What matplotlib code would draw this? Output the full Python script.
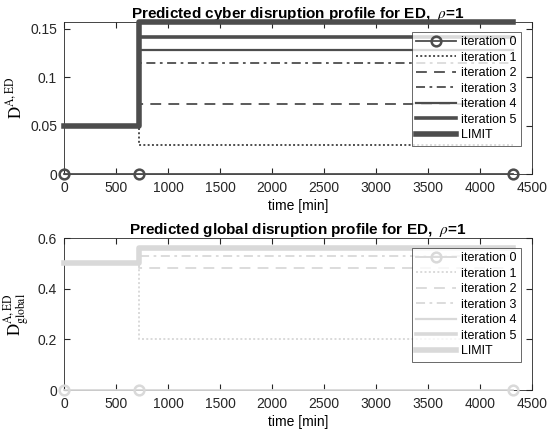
import matplotlib.pyplot as plt

plt.rcParams['font.family'] = ['Liberation Sans', 'DejaVu Sans']
plt.rcParams['mathtext.fontset'] = 'stix'

t = [0, 720, 4320]
labels = ['iteration 0', 'iteration 1', 'iteration 2', 'iteration 3',
          'iteration 4', 'iteration 5', 'LIMIT']

cyber_start = 0.05
cyber_iters = [0.0, 0.030, 0.072, 0.115, 0.128, 0.142]
cyber_limit = 0.157

glob_start = 0.5
glob_iters = [0.0, 0.20, 0.48, 0.53, 0.555, 0.56]
glob_limit = 0.56

styles = [('-', 1.3), ((0, (1, 1.2)), 1.4), ((0, (6, 4)), 1.3), ((0, (5, 2.5, 1.5, 2.5)), 1.3),
          ('-', 1.6), ('-', 2.6), ('-', 4.0)]

fig = plt.figure(figsize=(5.52, 4.32), dpi=100)
ax1 = fig.add_axes([64/552, 1-174/432, 468/552, 152/432])
ax2 = fig.add_axes([64/552, 1-390/432, 468/552, 152/432])


def draw(ax, start, iters, limit, col, title, ylab, ylim, yticks, yticklabels):
    for i, v in enumerate(iters):
        ls, lw = styles[i]
        if i == 0:
            ax.plot(t, [0, 0, 0], color=col, ls=ls, lw=lw, marker='o', mfc='none',
                    ms=7, mew=1.8, label=labels[i], clip_on=False, zorder=5)
        else:
            ax.step(t, [start, v, v], where='post', color=col, ls=ls, lw=lw,
                    label=labels[i])
    ls, lw = styles[6]
    ax.step(t, [start, limit, limit], where='post', color=col, ls=ls, lw=lw,
            label=labels[6], clip_on=False, zorder=4)
    ax.set_xlim(0, 4500)
    ax.set_ylim(*ylim)
    ax.set_xticks(range(0, 4501, 500))
    ax.set_yticks(yticks)
    ax.set_yticklabels(yticklabels)
    ax.tick_params(direction='in', top=True, right=True, labelsize=10,
                   colors='#262626', length=4, pad=5)
    for s in ax.spines.values():
        s.set_color('#262626')
        s.set_linewidth(0.6)
    ax.set_title(title, fontsize=11, fontweight='bold', pad=3)
    ax.set_xlabel('time [min]', fontsize=10, labelpad=3)
    ax.set_ylabel(ylab, fontsize=12)
    leg = ax.legend(loc='upper right', bbox_to_anchor=(0.977, 0.935), fontsize=9,
                    frameon=True, fancybox=False, edgecolor='#262626',
                    handlelength=3.2, borderpad=0.35, labelspacing=0.28,
                    handletextpad=0.4, borderaxespad=0, numpoints=1)
    leg.get_frame().set_linewidth(0.6)


draw(ax1, cyber_start, cyber_iters, cyber_limit, '#4d4d4d',
     r'Predicted cyber disruption profile for ED,  $\rho$=1',
     r'$\mathrm{D}^{\mathrm{A,ED}}$', (0, cyber_limit),
     [0, 0.05, 0.1, 0.15], ['0', '0.05', '0.1', '0.15'])
draw(ax2, glob_start, glob_iters, glob_limit, '#d9d9d9',
     r'Predicted global disruption profile for ED,  $\rho$=1',
     r'$\mathrm{D}^{\mathrm{A,ED}}_{\mathrm{global}}$', (0, 0.6),
     [0, 0.2, 0.4, 0.6], ['0', '0.2', '0.4', '0.6'])

fig.savefig('out.png', dpi=100)
